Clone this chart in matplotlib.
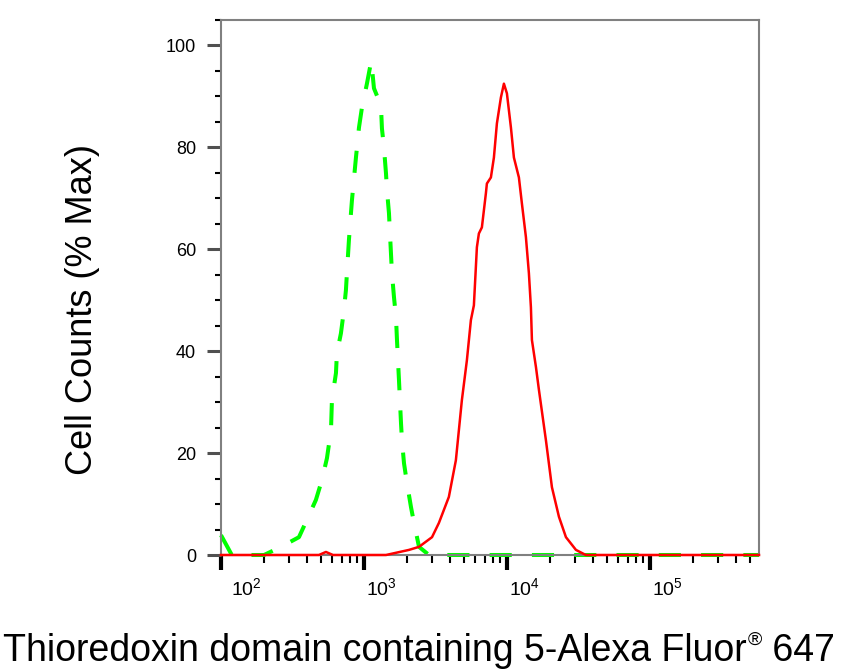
import numpy as np
import matplotlib
matplotlib.use('Agg')
import matplotlib.pyplot as plt
import matplotlib.transforms as mtransforms
from matplotlib.ticker import FixedLocator, NullFormatter

plt.rcParams['font.family'] = ['Liberation Sans', 'DejaVu Sans']
plt.rcParams['mathtext.fontset'] = 'custom'
plt.rcParams['mathtext.rm'] = 'Liberation Sans'
plt.rcParams['mathtext.it'] = 'Liberation Sans:italic'
plt.rcParams['mathtext.bf'] = 'Liberation Sans:bold'

# control (isotype) histogram, green dashed
control_x = [100, 119, 200, 263, 351, 399, 461, 508, 551, 588, 597, 637, 647, 690,
             724, 748, 760, 785, 824, 879, 923, 968, 1049, 1125, 1175, 1315, 1336,
             1380, 1426, 1449, 1496, 1545, 1570, 1622, 1675, 1702, 1758, 1816, 1845,
             1906, 2000, 2133, 2240, 2427, 2851, 580000]
control_y = [3.9, 0, 0, 1.6, 3.5, 6.9, 10.8, 14.7, 19.0, 24.5, 30.4, 35.7, 39.6, 43.5,
             48.0, 52.0, 55.3, 61.8, 69.6, 78.0, 83.9, 87.8, 92.5, 97.0, 91.6, 88.2, 83.7,
             80.0, 74.9, 71.6, 67.1, 59.2, 55.3, 50.6, 46.7, 42.2, 34.3, 25.9, 22.5,
             18.0, 14.1, 9.4, 6.3, 1.6, 0, 0]

# stained sample histogram, red solid
sample_x = [100, 484, 542, 607, 1426, 2065, 2427, 2993, 3345, 3926, 4396, 4842, 5248,
            5598, 5875, 6166, 6368, 6683, 7129, 7244, 7727, 8110, 8511, 9079, 9528,
            10000, 10667, 11194, 12130, 12730, 13580, 14250, 14720, 14960, 15960,
            16750, 18750, 20650, 23120, 25880, 30400, 35650, 580000]
sample_y = [0, 0, 0.6, 0, 0, 1.0, 1.6, 3.5, 6.3, 11.4, 18.6, 30.4, 38.2,
            46.1, 49.0, 60.4, 63.1, 64.3, 71.0, 72.9, 74.1, 78.0, 84.7, 89.8, 92.5,
            90.6, 83.9, 78.0, 74.1, 69.0, 62.4, 55.3, 48.6, 42.2, 36.9,
            32.4, 22.5, 13.3, 7.5, 3.5, 1.0, 0, 0]

x_major = [1e2, 1e3, 1e4, 1e5]
x_minor = [m * 10 ** e for e in range(2, 6) for m in range(2, 10) if m * 10 ** e < 5.8e5]
y_major = [0, 20, 40, 60, 80, 100]
y_minor = [v for v in range(5, 106, 5) if v % 20 != 0]

W, H = 842, 672
fig = plt.figure(figsize=(W / 100, H / 100), dpi=100)
ax = fig.add_axes([221 / W, 117 / H, 538 / W, 535 / H])

ax.plot(control_x, control_y, color='#00ff00', lw=2.9,
        linestyle=(0, (5.5, 5)), dash_capstyle='butt', clip_on=False, zorder=2)
ax.plot(sample_x, sample_y, color='#ff0000', lw=1.8, clip_on=False, zorder=3)

ax.set_xscale('log')
ax.set_xlim(100, 5.8e5)
ax.set_ylim(0, 105)

ax.xaxis.set_major_locator(FixedLocator(x_major))
ax.xaxis.set_minor_locator(FixedLocator(x_minor))
ax.xaxis.set_minor_formatter(NullFormatter())
ax.set_xticklabels([r'$10^{%d}$' % e for e in range(2, 6)])
ax.yaxis.set_major_locator(FixedLocator(y_major))
ax.yaxis.set_minor_locator(FixedLocator(y_minor))

for s in ax.spines.values():
    s.set_color('#808080')
    s.set_linewidth(1.5)

ax.tick_params(axis='x', which='major', length=11, width=3, color='black',
               labelsize=14, pad=5)
ax.tick_params(axis='x', which='minor', length=6, width=1.5, color='black')
ax.tick_params(axis='y', which='major', length=10, width=2.2, color='#505050',
               labelsize=13, pad=8)
ax.tick_params(axis='y', which='minor', length=4, width=1.5, color='black')

# FlowJo-style labels sit to the right of the tick
offsets = [10, 2, 2, 2]
for lab, dx in zip(ax.get_xticklabels(), offsets):
    lab.set_horizontalalignment('left')
    lab.set_transform(lab.get_transform() +
                      mtransforms.ScaledTranslation(dx / 100, 0, fig.dpi_scale_trans))

fig.text(83 / W, 0.540, 'Cell Counts (% Max)', rotation=90, fontsize=26,
         ha='center', va='center')

# x label in three pieces so the registered sign can be small and raised
base_y = 11 / H
renderer = fig.canvas.get_renderer()
t1 = fig.text(0, base_y, 'Thioredoxin domain containing 5-Alexa Fluor',
              fontsize=27, ha='left', va='baseline')
t2 = fig.text(0, 0, '\u00ae', fontsize=14, ha='left', va='top')
t3 = fig.text(0, base_y, ' 647', fontsize=27, ha='left', va='baseline')
w1 = t1.get_window_extent(renderer).width
w2 = t2.get_window_extent(renderer).width
w3 = t3.get_window_extent(renderer).width
total = w1 + 1 + w2 + w3
x0 = 419 - total / 2
t1.set_x(x0 / W)
t2.set_position(((x0 + w1 + 1) / W, (H - 632) / H))
t3.set_x((x0 + w1 + 1 + w2) / W)

fig.savefig('out.png', dpi=100)
